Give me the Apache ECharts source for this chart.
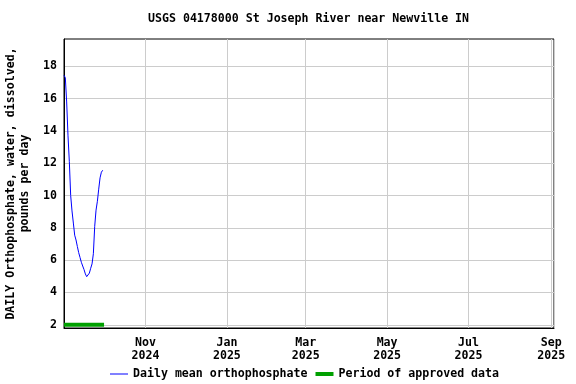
<!DOCTYPE html>
<html><head><meta charset="utf-8">
<script src="https://cdn.jsdelivr.net/npm/echarts@6/dist/echarts.min.js"></script>
<style>html,body{margin:0;padding:0;background:#fff}#c{width:576px;height:384px}</style>
</head><body><div id="c"></div>
<script>
const titleText = 'USGS 04178000 St Joseph River near Newville IN';
const yAxisName = 'DAILY Orthophosphate, water, dissolved,\npounds per day';
const seriesNames = ['Daily mean orthophosphate', 'Period of approved data'];
const firstDay = '2024-09-01';
const dailyValues = [17.45, 17.3, 15.8, 13.7, 12.1, 10.0, 9.05, 8.3, 7.55, 7.25,
                     6.85, 6.47, 6.17, 5.87, 5.64, 5.42, 5.15, 4.98, 4.95, 5.2,
                     5.5, 5.77, 6.4, 8.1, 9.1, 9.65, 10.4, 11.1, 11.45, 11.57];
const approvedPeriod = ['2024-09-01', '2024-10-01'];
const approvedLevel = 2;
const xRange = ['2024-09-01', '2025-09-03'];
const yRange = [1.8, 19.7];
const yTicks = [2, 4, 6, 8, 10, 12, 14, 16, 18];
const monthNames = ['Jan','Feb','Mar','Apr','May','Jun','Jul','Aug','Sep','Oct','Nov','Dec'];

const FONT = 'DejaVu Sans Mono';
function utc(s){ const p = s.split('-').map(Number); return Date.UTC(p[0], p[1]-1, p[2]); }
const DAY = 86400000;
const t0 = utc(firstDay);
const xMin = utc(xRange[0]);
const lineData = dailyValues.map((v, i) => [t0 + i * DAY, v]);
const approvedData = approvedPeriod.map(d => [utc(d), approvedLevel]);

const chart = echarts.init(document.getElementById('c'), null, {renderer: 'canvas'});
chart.setOption({
  useUTC: true,
  animation: false,
  backgroundColor: '#fff',
  title: {
    text: titleText, left: 148, top: 13, padding: 0,
    textStyle: {fontFamily: FONT, fontSize: 11.6, fontWeight: 'bold', color: '#000'}
  },
  legend: {
    left: 110, top: 368, itemWidth: 18, itemHeight: 5, itemGap: 8, padding: 0,
    textStyle: {fontFamily: FONT, fontSize: 11.6, fontWeight: 'bold', color: '#000'},
    itemStyle: {borderWidth: 0},
    data: [
      {name: seriesNames[0], icon: 'path://M0 0H18V1H0Z'},
      {name: seriesNames[1], icon: 'path://M0 0H18V4H0Z'}
    ]
  },
  grid: {left: 64, right: 22, top: 39, bottom: 56, show: true, borderColor: '#000', borderWidth: 1,
         backgroundColor: 'transparent', containLabel: false, outerBoundsMode: 'none'},
  xAxis: {
    type: 'time', min: xMin, max: utc(xRange[1]), splitNumber: 6,
    axisLine: {show: true, lineStyle: {color: '#000', width: 1}},
    axisTick: {show: false},
    splitLine: {show: true, lineStyle: {color: '#cccccc', width: 1}},
    axisLabel: {
      showMinLabel: false,
      fontFamily: FONT, fontSize: 11.6, fontWeight: 'bold', color: '#000', lineHeight: 13, margin: 8,
      formatter: function (v) {
        if (v <= xMin) return '';
        const d = new Date(v);
        if (d.getUTCDate() !== 1 || d.getUTCMonth() % 2 !== 0) return '';
        return monthNames[d.getUTCMonth()] + '\n' + d.getUTCFullYear();
      }
    }
  },
  yAxis: {
    type: 'value', min: yRange[0], max: yRange[1], interval: 0.2,
    name: yAxisName, nameLocation: 'middle', nameGap: 32, nameRotate: 90,
    nameTextStyle: {fontFamily: FONT, fontSize: 11.6, fontWeight: 'bold', color: '#000', lineHeight: 14, align: 'center'},
    axisLine: {show: true, lineStyle: {color: '#000', width: 1}},
    axisTick: {show: false},
    splitLine: {show: false},
    axisLabel: {
      fontFamily: FONT, fontSize: 11.6, fontWeight: 'bold', color: '#000', margin: 7,
      formatter: function (v) {
        const r = Math.round(v);
        return (Math.abs(v - r) < 1e-6 && yTicks.indexOf(r) >= 0) ? String(r) : '';
      }
    }
  },
  series: [
    {
      name: 'gridlines', type: 'line', data: [], z: 0, silent: true,
      markLine: {
        z: 0, silent: true, symbol: 'none', animation: false,
        label: {show: false},
        lineStyle: {color: '#cccccc', width: 1, type: 'solid'},
        data: yTicks.map(v => ({yAxis: v}))
      }
    },
    {
      name: seriesNames[1], type: 'line', data: approvedData, symbol: 'none', z: 6,
      color: '#00a000', lineStyle: {color: '#00a000', width: 4, cap: 'butt'}, clip: false
    },
    {
      name: seriesNames[0], type: 'line', data: lineData, symbol: 'none', z: 7,
      color: '#0000ff', lineStyle: {color: '#0000ff', width: 1}
    }
  ]
});
</script></body></html>
